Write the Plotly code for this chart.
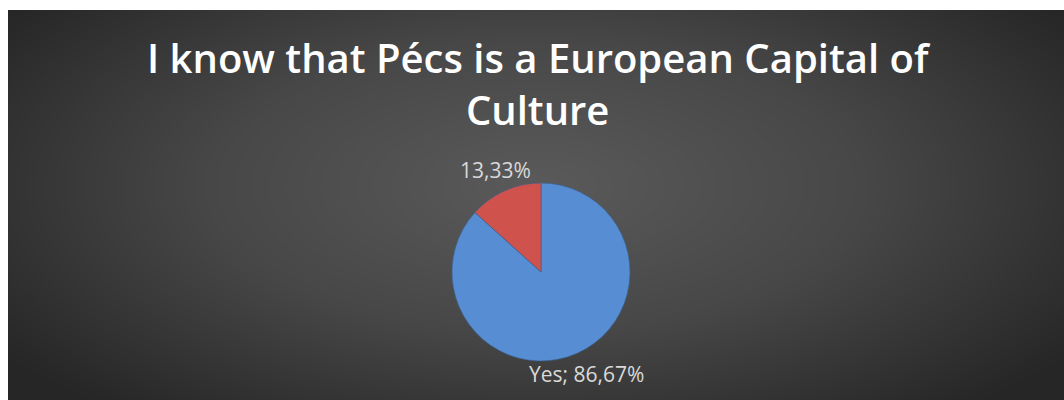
import numpy as np
import plotly.graph_objects as go

# Survey answers
answers = ["Yes", "No"]
shares = [86.67, 13.33]
show_answer = [True, False]
slice_colors = ["#568dd3", "#cf524d"]

title_text = "I know that Pécs is a European Capital of<br>Culture"

W, H = 1064, 400


def pct(v):
    return f"{v:.2f}".replace(".", ",") + "%"


slice_text = [f"{a}; {pct(v)}" if s else pct(v) for a, v, s in zip(answers, shares, show_answer)]

# Radial shading for the dark panel behind the chart
gx = np.linspace(0, 1, 60)
gy = np.linspace(0, 1, 40)
X, Y = np.meshgrid(gx, gy)
dist = np.sqrt(((X - 0.5) / 0.62) ** 2 + ((Y - 0.55) / 0.75) ** 2)
shade = np.clip(dist, 0, 1)

fig = go.Figure()
fig.add_trace(go.Heatmap(
    x=gx, y=gy, z=shade, zsmooth="best", showscale=False, hoverinfo="skip",
    colorscale=[[0, "#5a5a5a"], [0.5, "#474747"], [1, "#262626"]],
    zmin=0, zmax=1, xaxis="x", yaxis="y",
))

cx, cy, r = 541, 272, 89
fig.add_trace(go.Pie(
    labels=answers, values=shares, sort=False, direction="clockwise", rotation=0,
    textinfo="none",
    marker=dict(colors=slice_colors, line=dict(color="#3a5f8f", width=0.6)),
    domain=dict(x=[(cx - r) / W, (cx + r) / W], y=[1 - (cy + r) / H, 1 - (cy - r) / H]),
    showlegend=False, hoverinfo="label+percent",
))

# Slice labels sit just outside the pie, along each slice's mid-angle
total = sum(shares)
start = 0.0
label_r = 1.25 * r
for v, txt in zip(shares, slice_text):
    mid = np.deg2rad((start + v / 2) / total * 360)
    start += v
    lx = cx + label_r * np.sin(mid)
    ly = cy - label_r * np.cos(mid)
    fig.add_annotation(
        x=lx / W, y=1 - ly / H, xref="paper", yref="paper",
        text=txt, showarrow=False, xanchor="center", yanchor="middle",
        font=dict(family="Open Sans", size=21, color="#d9d9d9"),
    )

fig.add_annotation(
    x=539 / W, y=1 - 83 / H, xref="paper", yref="paper",
    text=title_text, showarrow=False, xanchor="center", yanchor="middle",
    font=dict(family="Open Sans", size=40, color="white", weight=600),
)

fig.update_layout(
    width=W, height=H,
    margin=dict(l=0, r=0, t=0, b=0),
    paper_bgcolor="white", plot_bgcolor="rgba(0,0,0,0)",
    xaxis=dict(domain=[8 / W, 1], range=[0, 1], visible=False, fixedrange=True),
    yaxis=dict(domain=[0, 1 - 10 / H], range=[0, 1], visible=False, fixedrange=True),
)

fig.write_html("out.html")
